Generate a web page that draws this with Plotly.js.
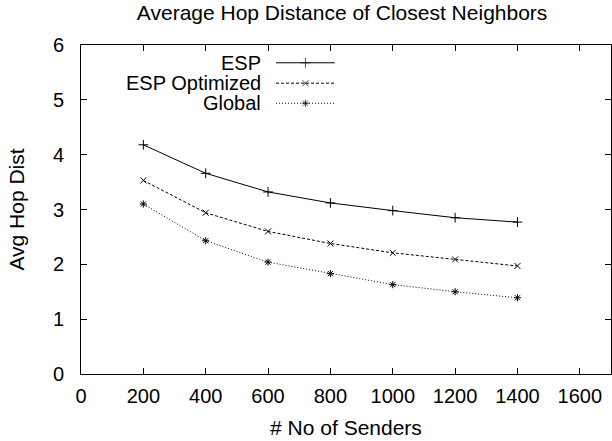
<!DOCTYPE html>
<html>
<head>
<meta charset="utf-8">
<script src="https://cdn.plot.ly/plotly-3.0.1.min.js"></script>
<style>html,body{margin:0;padding:0;background:#fff}#chart{width:612px;height:441px}</style>
</head>
<body>
<div id="chart"></div>
<script>
const senders = [200, 400, 600, 800, 1000, 1200, 1400];
const espValues = [4.18, 3.66, 3.32, 3.12, 2.98, 2.85, 2.77];
const espOptimizedValues = [3.53, 2.94, 2.60, 2.38, 2.21, 2.09, 1.97];
const globalValues = [3.10, 2.43, 2.04, 1.83, 1.63, 1.50, 1.39];
const seriesNames = ['ESP', 'ESP Optimized', 'Global'];
const xTicks = [0, 200, 400, 600, 800, 1000, 1200, 1400, 1600];
const yTicks = [0, 1, 2, 3, 4, 5, 6];

const styles = [
  {dash: 'solid', symbol: 'cross-thin-open', size: 7},
  {dash: '3px,2px', symbol: 'x-thin-open', size: 6},
  {dash: '1px,2px', symbol: 'asterisk-open', size: 6}
];
const allValues = [espValues, espOptimizedValues, globalValues];
const font = 'Liberation Sans, Arial, sans-serif';

const traces = allValues.map((vals, i) => ({
  x: senders, y: vals, name: seriesNames[i], type: 'scatter', mode: 'lines+markers',
  line: {color: '#000', width: 1, dash: styles[i].dash},
  marker: {symbol: styles[i].symbol, size: styles[i].size, color: '#000', line: {color: '#000', width: 1}},
  showlegend: false
}));

// legend samples (symbol to the right of the text, gnuplot style)
const legY = [0.946, 0.884, 0.823];
const legX0 = 0.368, legX1 = 0.479;
seriesNames.forEach((n, i) => {
  traces.push({
    x: [legX0, (legX0 + legX1) / 2, legX1], y: [legY[i], legY[i], legY[i]],
    xaxis: 'x2', yaxis: 'y2', type: 'scatter', mode: 'lines+markers', hoverinfo: 'skip',
    line: {color: '#000', width: 1, dash: styles[i].dash},
    marker: {symbol: styles[i].symbol, size: [0, styles[i].size, 0], color: '#000', line: {color: '#000', width: 1}},
    showlegend: false
  });
});

const annotations = seriesNames.map((n, i) => ({
  xref: 'paper', yref: 'paper', x: 0.341, y: legY[i], xanchor: 'right', yanchor: 'middle',
  text: n, showarrow: false, borderpad: 0, font: {family: font, size: 20, color: '#000'}
}));

const axisCommon = {
  showline: true, mirror: 'ticks', linecolor: '#000', linewidth: 1,
  ticks: 'inside', ticklen: 6, tickcolor: '#000', tickwidth: 1,
  showgrid: false, zeroline: false,
  tickfont: {family: font, size: 20, color: '#000'}
};

const layout = {
  width: 612, height: 441,
  margin: {l: 81, r: 1, t: 45, b: 67},
  paper_bgcolor: '#fff', plot_bgcolor: '#fff',
  title: {text: 'Average Hop Distance of Closest Neighbors', font: {family: font, size: 21, color: '#000'},
          x: 0.559, xanchor: 'center', y: 0.9705, yanchor: 'middle'},
  xaxis: Object.assign({}, axisCommon, {range: [0, 1700], tickvals: xTicks, ticktext: xTicks.map(String),
    ticklabelstandoff: 4,
    title: {text: '# No of Senders', font: {family: font, size: 21, color: '#000'}, standoff: 14}}),
  yaxis: Object.assign({}, axisCommon, {range: [0, 6], tickvals: yTicks, ticktext: yTicks.map(String),
    ticklabelstandoff: 12,
    title: {text: 'Avg Hop Dist', font: {family: font, size: 21, color: '#000'}, standoff: 22}}),
  xaxis2: {overlaying: 'x', range: [0, 1], visible: false, fixedrange: true},
  yaxis2: {overlaying: 'y', range: [0, 1], visible: false, fixedrange: true},
  annotations: annotations,
  showlegend: false
};

Plotly.newPlot('chart', traces, layout, {staticPlot: true, displayModeBar: false});
</script>
</body>
</html>
